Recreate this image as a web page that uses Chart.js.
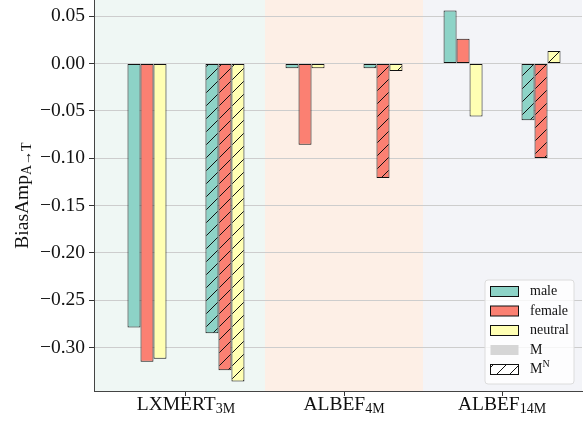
<!DOCTYPE html>
<html>
<head>
<meta charset="utf-8">
<script src="https://cdn.jsdelivr.net/npm/chart.js@4/dist/chart.umd.min.js"></script>
<style>
  body { margin: 0; background: #fff; }
  #chart { display: block; }
</style>
</head>
<body>
<canvas id="chart" width="585" height="421"></canvas>
<script>
const groups = ['LXMERT', 'ALBEF', 'ALBEF'];
const groupSubs = ['3M', '4M', '14M'];
const bandColors = ['#eff7f4', '#fdefe6', '#f3f4f8'];

const seriesNames = ['male', 'female', 'neutral'];
const seriesColors = ['#8dd3c7', '#fb8072', '#ffffb3'];

// M (plain bars)
const maleM = [-0.279, -0.005, 0.056];
const femaleM = [-0.315, -0.086, 0.026];
const neutralM = [-0.312, -0.005, -0.056];
// M^N (hatched bars)
const maleMN = [-0.285, -0.005, -0.060];
const femaleMN = [-0.324, -0.121, -0.100];
const neutralMN = [-0.336, -0.008, 0.013];

const yTicks = [0.05, 0.00, -0.05, -0.10, -0.15, -0.20, -0.25, -0.30];

const FONT = "'Liberation Serif', 'DejaVu Serif', serif";
const BIG = 19.5, SMALL = 14;

function hatch(color) {
    const S = 13;
    const c = document.createElement('canvas');
    c.width = S; c.height = S;
    const g = c.getContext('2d');
    g.fillStyle = color;
    g.fillRect(0, 0, S, S);
    g.strokeStyle = '#111';
    g.lineWidth = 1;
    g.beginPath();
    g.moveTo(0, S); g.lineTo(S, 0);
    g.moveTo(-S / 2, S / 2); g.lineTo(S / 2, -S / 2);
    g.moveTo(S / 2, S * 1.5); g.lineTo(S * 1.5, S / 2);
    g.stroke();
    return g.createPattern(c, 'repeat');
}

const toPts = arr => arr.map((v, i) => ({x: i, y: v}));
const blank = groups.map((g, i) => ({x: i, y: null}));

function barSet(label, values, fill) {
    return {
        label: label,
        data: toPts(values),
        backgroundColor: fill,
        borderColor: '#111',
        borderWidth: 1,
        borderSkipped: false,
    };
}

const datasets = [
    barSet('male M', maleM, seriesColors[0]),
    barSet('female M', femaleM, seriesColors[1]),
    barSet('neutral M', neutralM, seriesColors[2]),
    {label: 'gap1', data: blank},
    {label: 'gap2', data: blank},
    {label: 'gap3', data: blank},
    barSet('male MN', maleMN, hatch(seriesColors[0])),
    barSet('female MN', femaleMN, hatch(seriesColors[1])),
    barSet('neutral MN', neutralMN, hatch(seriesColors[2])),
];

// colored bands behind each model group, outer ones run to the plot edges
const bands = {
    id: 'bands',
    beforeDraw(chart) {
        const {ctx, chartArea: a, scales: {x}} = chart;
        ctx.save();
        groups.forEach((g, i) => {
            const l = i === 0 ? a.left : x.getPixelForValue(i - 0.5);
            const r = i === groups.length - 1 ? a.right : x.getPixelForValue(i + 0.5);
            ctx.fillStyle = bandColors[i];
            ctx.fillRect(l, a.top, r - l, a.bottom - a.top);
        });
        ctx.restore();
    }
};

// subscripted axis texts and the legend
const extras = {
    id: 'extras',
    afterDraw(chart) {
        const {ctx, chartArea: a, scales: {x}} = chart;
        ctx.save();
        ctx.fillStyle = '#111';
        ctx.textBaseline = 'alphabetic';
        ctx.textAlign = 'left';

        // x tick labels
        groups.forEach((g, i) => {
            ctx.font = BIG + 'px ' + FONT;
            const w1 = ctx.measureText(g).width;
            ctx.font = SMALL + 'px ' + FONT;
            const w2 = ctx.measureText(groupSubs[i]).width;
            const x0 = x.getPixelForValue(i) - (w1 + w2) / 2;
            ctx.font = BIG + 'px ' + FONT;
            ctx.fillText(g, x0, a.bottom + 19);
            ctx.font = SMALL + 'px ' + FONT;
            ctx.fillText(groupSubs[i], x0 + w1, a.bottom + 22);
        });

        // y axis title
        ctx.save();
        ctx.font = BIG + 'px ' + FONT;
        const t1 = 'BiasAmp';
        const w1 = ctx.measureText(t1).width;
        ctx.font = SMALL + 'px ' + FONT;
        const t2 = 'A\u2192T';
        const w2 = ctx.measureText(t2).width;
        ctx.translate(28, (a.top + a.bottom) / 2 + (w1 + w2) / 2);
        ctx.rotate(-Math.PI / 2);
        ctx.font = BIG + 'px ' + FONT;
        ctx.fillText(t1, 0, 0);
        ctx.font = SMALL + 'px ' + FONT;
        ctx.fillText(t2, w1, 3);
        ctx.restore();

        // legend
        const lx = 485, ly = 280, lw = 89, lh = 104;
        ctx.beginPath();
        ctx.roundRect(lx, ly, lw, lh, 3);
        ctx.fillStyle = 'rgba(255,255,255,0.8)';
        ctx.fill();
        ctx.strokeStyle = '#dcdcdc';
        ctx.lineWidth = 1;
        ctx.stroke();

        const entries = [
            {text: seriesNames[0], fill: seriesColors[0], edge: true},
            {text: seriesNames[1], fill: seriesColors[1], edge: true},
            {text: seriesNames[2], fill: seriesColors[2], edge: true},
            {text: 'M', fill: '#d6d6d6', edge: false},
            {text: 'M', sup: 'N', fill: hatch('#ffffff'), edge: true},
        ];
        entries.forEach((e, k) => {
            const cy = ly + 11.5 + k * 19.5;
            ctx.fillStyle = e.fill;
            ctx.fillRect(490.5, cy - 5, 28, 10);
            if (e.edge) {
                ctx.strokeStyle = '#111';
                ctx.strokeRect(490.5, cy - 5, 28, 10);
            }
            ctx.fillStyle = '#111';
            ctx.font = '14px ' + FONT;
            ctx.textBaseline = 'middle';
            ctx.fillText(e.text, 530, cy);
            if (e.sup) {
                const w = ctx.measureText(e.text).width;
                ctx.font = '10px ' + FONT;
                ctx.fillText(e.sup, 530 + w, cy - 5);
            }
        });
        ctx.restore();
    }
};

new Chart(document.getElementById('chart'), {
    type: 'bar',
    data: {datasets: datasets},
    plugins: [bands, extras],
    options: {
        responsive: false,
        devicePixelRatio: 1,
        animation: false,
        layout: {padding: {left: 0, right: 3, top: 0, bottom: 0}},
        datasets: {bar: {categoryPercentage: 0.74, barPercentage: 1}},
        plugins: {legend: {display: false}, tooltip: {enabled: false}},
        scales: {
            x: {
                type: 'linear',
                offset: false,
                min: -0.582,
                max: 2.506,
                afterBuildTicks: s => { s.ticks = groups.map((g, i) => ({value: i})); },
                afterFit: s => { s.height = 30; s.paddingLeft = 0; s.paddingRight = 0; },
                ticks: {display: false},
                grid: {offset: false, color: 'rgba(0,0,0,0)', tickColor: '#333', tickLength: 5, drawOnChartArea: false},
                border: {color: '#444', width: 1},
            },
            y: {
                min: -0.346,
                max: 0.067,
                afterBuildTicks: s => { s.ticks = yTicks.map(v => ({value: v})); },
                afterFit: s => { s.width = 94; s.paddingTop = 0; s.paddingBottom = 0; },
                ticks: {
                    padding: 4,
                    color: '#111',
                    font: {family: FONT, size: BIG},
                    callback: v => (v < -1e-9 ? '\u2212' : '') + Math.abs(v).toFixed(2),
                },
                grid: {color: '#cdcdcd', tickColor: '#333', tickLength: 5},
                border: {color: '#444', width: 1},
            }
        }
    }
});
</script>
</body>
</html>
